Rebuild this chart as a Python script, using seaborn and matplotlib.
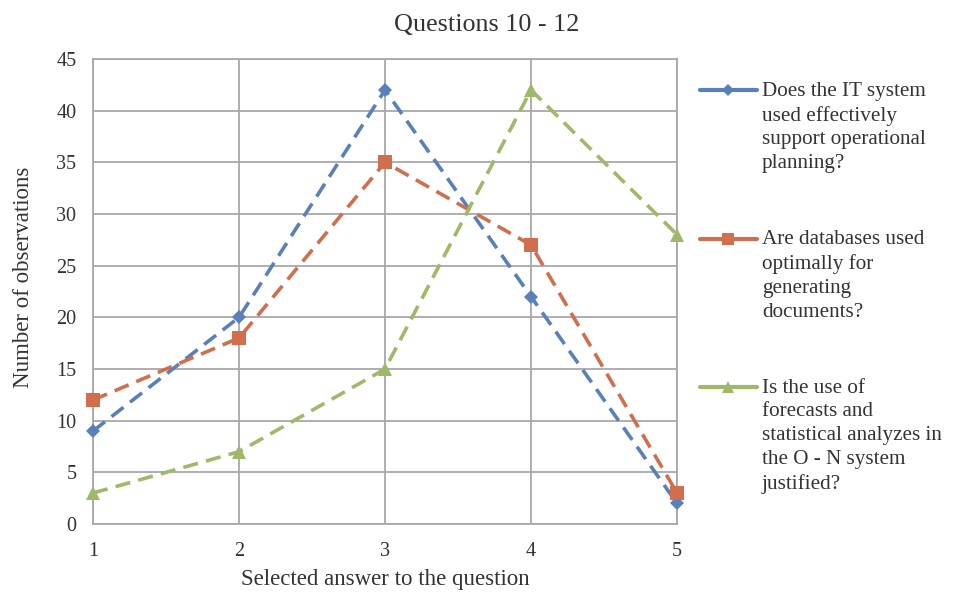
import matplotlib
matplotlib.use("Agg")
import matplotlib.pyplot as plt
from matplotlib.lines import Line2D
import pandas as pd
import seaborn as sns

# Survey responses per answer option
answers = [1, 2, 3, 4, 5]
q10 = [9, 20, 42, 22, 2]
q11 = [12, 18, 35, 27, 3]
q12 = [3, 7, 15, 42, 28]
labels = [
    "Does the IT system\nused effectively\nsupport operational\nplanning?",
    "Are databases used\noptimally for\ngenerating\ndocuments?",
    "Is the use of\nforecasts and\nstatistical analyzes in\nthe O - N system\njustified?",
]
colors = ["#5A80BA", "#D06E4E", "#A0B86A"]
markers = ["D", "s", "^"]
msizes = [7, 10, 10]

df = pd.DataFrame({
    "answer": answers * 3,
    "count": q10 + q11 + q12,
    "question": [labels[0]] * 5 + [labels[1]] * 5 + [labels[2]] * 5,
})

sns.set_theme(style="white")
plt.rcParams["font.family"] = ["Liberation Serif", "DejaVu Serif"]
text_color = "#333333"
grid_color = "#A8A8A8"

fig = plt.figure(figsize=(9.54, 5.94), dpi=100)
ax = fig.add_axes([0.0975, 0.1178, 0.6122, 0.7829])

dash = (4.2, 2.3)
for lab, col, mk, ms in zip(labels, colors, markers, msizes):
    sub = df[df["question"] == lab]
    sns.lineplot(data=sub, x="answer", y="count", ax=ax, color=col,
                 linewidth=2.6, marker=mk, markersize=ms,
                 markeredgecolor=col, markeredgewidth=0,
                 sort=False, legend=False, clip_on=False, zorder=3)
for line in ax.get_lines():
    line.set_dashes(dash)

ax.set_xlim(1, 5)
ax.set_ylim(0, 45)
ax.set_xticks(answers)
ax.set_yticks(range(0, 46, 5))
ax.grid(True, color=grid_color, linewidth=1.3)
ax.set_axisbelow(True)
for sp in ax.spines.values():
    sp.set_color(grid_color)
    sp.set_linewidth(1.3)
ax.tick_params(axis="both", length=0, labelsize=14.5, colors=text_color)
ax.tick_params(axis="x", pad=13)
ax.tick_params(axis="y", pad=12)

fig.suptitle("Questions 10 - 12", x=0.51, y=0.977, va="top",
             fontsize=18.8, color=text_color)
ax.set_xlabel("Selected answer to the question", fontsize=16.5,
              color=text_color, labelpad=6)
ax.set_ylabel("Number of observations", fontsize=16.5, color=text_color)
ax.yaxis.set_label_coords(-0.101, 0.531)

handles = [Line2D([0], [0], color=c, marker=m, markersize=s * 0.9,
                  linewidth=3, markeredgewidth=0)
           for c, m, s in zip(colors, markers, msizes)]
leg = fig.legend(handles, labels, loc="upper left",
                 bbox_to_anchor=(0.7138, 0.8944), frameon=False,
                 fontsize=15.2, handlelength=2.7, handleheight=1.0,
                 handletextpad=0.24, labelspacing=2.7,
                 labelcolor=text_color)
for t in leg.get_texts():
    t.set_linespacing(1.34)
# keep each legend key level with the first line of its label
for column in leg._legend_handle_box.get_children():
    for item in column.get_children():
        item.align = "top"

fig.savefig("out.png", dpi=100)
